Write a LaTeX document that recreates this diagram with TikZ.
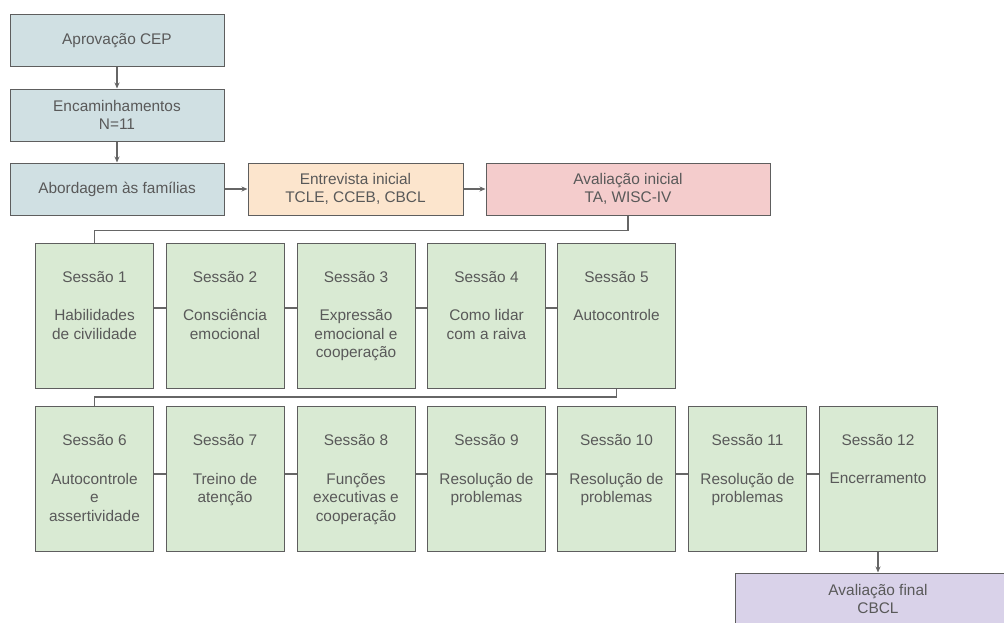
\documentclass[tikz,border=0pt]{standalone}
\usepackage{fontspec}
\setmainfont{Liberation Sans}
\usetikzlibrary{arrows.meta}
\definecolor{bordc}{HTML}{5E5E5E}
\definecolor{txtc}{HTML}{595959}
\definecolor{linec}{HTML}{666666}
\definecolor{cyanl}{HTML}{D0E0E3}
\definecolor{orangel}{HTML}{FCE5CD}
\definecolor{redl}{HTML}{F4CCCC}
\definecolor{greenl}{HTML}{D9EAD3}
\definecolor{purplel}{HTML}{D9D2E9}
\newcommand{\sessao}[5]{%
  \node[sessbox] (#1) at (#2,#3) {};
  \node[lbl,anchor=base] (#1t) at ([yshift=-39.5pt]#1.north) {Sessão #4};
  \node[lbl,anchor=north] (#1b) at ([yshift=-67pt]#1.north) {#5};
}
\begin{document}
\begin{tikzpicture}[x=1pt,y=-1pt,
  box/.style={draw=bordc, line width=1pt, text=txtc,
    font=\fontsize{15.4}{18.5}\selectfont, align=center, inner sep=0pt},
  topbox/.style={box, fill=cyanl, minimum width=214pt, minimum height=52pt},
  sessbox/.style={box, fill=greenl, minimum width=118pt, minimum height=145pt},
  lbl/.style={text=txtc, font=\fontsize{15.4}{18.5}\selectfont, align=center, inner sep=0pt},
  conn/.style={draw=linec, line width=1.2pt},
  arr/.style={conn, -{Stealth[length=6pt,width=5pt]}}
]
\useasboundingbox[fill=white] (0,0) rectangle (1004,622);

% top column
\node[topbox] (cep) at (117,40.5) {Aprovação CEP};
\node[topbox] (enc) at (117,115) {Encaminhamentos\\N=11};
\node[topbox] (abo) at (117,189) {Abordagem às famílias};
\node[box, fill=orangel, minimum width=215pt, minimum height=52pt] (ent) at (355.5,189) {Entrevista inicial\\TCLE, CCEB, CBCL};
\node[box, fill=redl, minimum width=284pt, minimum height=52pt] (avi) at (628,189) {Avaliação inicial\\TA, WISC-IV};

\draw[arr] (cep) -- (enc);
\draw[arr] (enc) -- (abo);
\draw[arr] (abo) -- (ent);
\draw[arr] (ent) -- (avi);

% row 1
\sessao{s1}{94.5}{315.5}{1}{Habilidades\\de civilidade}
\sessao{s2}{225}{315.5}{2}{Consciência\\emocional}
\sessao{s3}{356}{315.5}{3}{Expressão\\emocional e\\cooperação}
\sessao{s4}{486.5}{315.5}{4}{Como lidar\\com a raiva}
\sessao{s5}{616.5}{315.5}{5}{Autocontrole}

% row 2
\sessao{s6}{94.5}{479}{6}{Autocontrole\\e\\assertividade}
\sessao{s7}{225}{479}{7}{Treino de\\atenção}
\sessao{s8}{356}{479}{8}{Funções\\executivas e\\cooperação}
\sessao{s9}{486.5}{479}{9}{Resolução de\\problemas}
\sessao{s10}{616.5}{479}{10}{Resolução de\\problemas}
\sessao{s11}{747.5}{479}{11}{Resolução de\\problemas}
\sessao{s12}{878}{479}{12}{Encerramento}

% final box (cut by the page edge)
\begin{scope}
  \clip (0,0) rectangle (1004,622);
  \node[box, fill=purplel, minimum width=286pt, minimum height=52pt] (fin) at (878,599) {Avaliação final\\CBCL};
\end{scope}

% elbow connectors
\draw[conn] (avi.south) -- ++(0,15) -| (s1.north);
\draw[conn] (s5.south) -- ++(0,8.5) -| (s6.north);

% session links row 1
\foreach \a/\b in {s1/s2,s2/s3,s3/s4,s4/s5}
  \draw[conn] ([yshift=7.5pt]\a.east) -- ([yshift=7.5pt]\b.west);
% session links row 2
\foreach \a/\b in {s6/s7,s7/s8,s8/s9,s9/s10,s10/s11,s11/s12}
  \draw[conn] ([yshift=5pt]\a.east) -- ([yshift=5pt]\b.west);

\draw[arr] (s12) -- (fin);
\end{tikzpicture}
\end{document}
